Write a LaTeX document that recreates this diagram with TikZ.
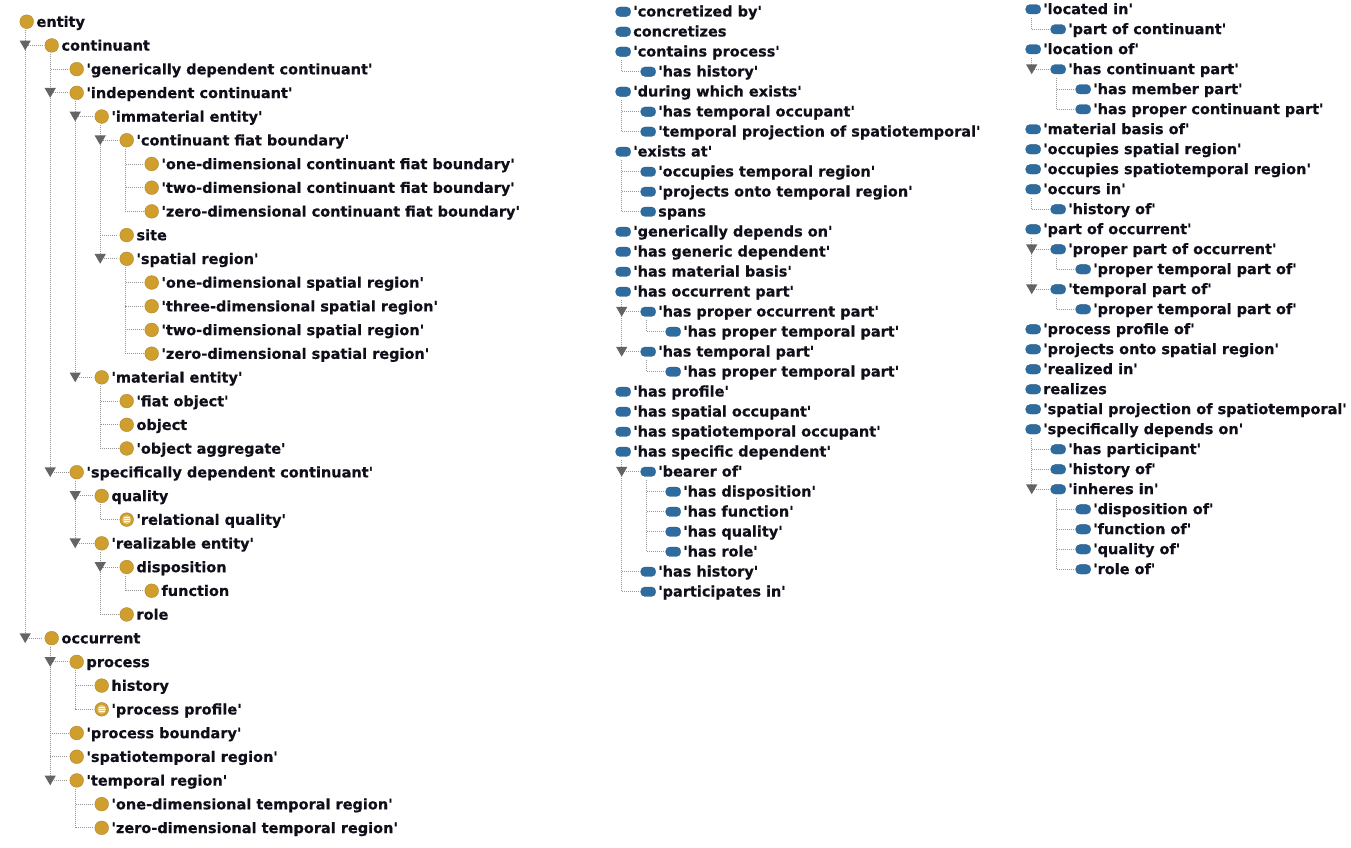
\documentclass[tikz,border=0pt]{standalone}
\usepackage{fontspec}
\setmainfont{DejaVu Sans}[BoldFeatures={FakeBold=0.5}]
\usetikzlibrary{shapes.geometric,calc}
\definecolor{gold}{RGB}{207,158,45}
\definecolor{propblue}{RGB}{46,108,160}
\definecolor{trigray}{RGB}{100,100,100}
\definecolor{linegray}{RGB}{150,150,150}
\definecolor{txt}{RGB}{15,15,25}
\newcommand\q[1]{\textquotesingle#1\textquotesingle}
\tikzset{
  cls/.style={circle, fill=gold, draw=gold!80!black, line width=0.3pt, minimum size=13.8pt, inner sep=0pt},
  defcls/.style={cls, path picture={
     \fill[gold!55!white] (path picture bounding box.center) circle (4.5pt);
     \foreach \yy in {-2.1,0,2.1}{\draw[white, line width=0.9pt] ($(path picture bounding box.center)+(-2.9,\yy)$) -- ++(5.8,0);}}},
  prop/.style={rectangle, rounded corners=4.2pt, fill=propblue, draw=propblue!80!black, line width=0.3pt, minimum width=15pt, minimum height=9.4pt, inner sep=0pt},
  lbl/.style={anchor=base west, inner sep=0pt, text=txt, font=\bfseries\fontsize{14.5}{16}\selectfont},
  tline/.style={draw=linegray, line width=0.9pt, dash pattern=on 1pt off 1pt},
  tri/.style={regular polygon, regular polygon sides=3, shape border rotate=180, fill=trigray, inner sep=0pt, minimum size=13pt},
}
% column 1: classes
\newcommand\A[5][cls]{\node[#1] (#2) at ({26.7+25*#3},{21.7+23.71*#4}) {};
  \node[lbl] (#2t) at ([xshift=9.6pt,yshift=-5.2pt]#2.center) {#5};}
% column 2 / 3: properties
\newcommand\B[4]{\node[prop] (#1) at ({623.2+25*#2},{11.7+20*#3}) {};
  \node[lbl] (#1t) at ([xshift=9.8pt,yshift=-4.8pt]#1.center) {#4};}
\newcommand\C[4]{\node[prop] (#1) at ({1033.2+25*#2},{9.3+20*#3}) {};
  \node[lbl] (#1t) at ([xshift=9.8pt,yshift=-4.8pt]#1.center) {#4};}
\newcommand\lk[2]{\draw[tline] ([xshift=-1.5pt,yshift=-8.5pt]#1.center) |- ([xshift=-1.5pt]#2.west);}
\newcommand\tg[2]{\node[tri] (h-#2) at ($(#1.center |- #2.center)+(-1.5,-1.6)$) {};}
\begin{document}
\begin{tikzpicture}[x=1pt,y=-1pt]
\useasboundingbox (0,0) rectangle (1351,848);
\fill[white] (0,0) rectangle (1351,848);
% ---------------- column 1
\A{e}{0}{0}{entity}
\A{c}{1}{1}{continuant}
\A{gdc}{2}{2}{\q{generically dependent continuant}}
\A{ic}{2}{3}{\q{independent continuant}}
\A{ie}{3}{4}{\q{immaterial entity}}
\A{cfb}{4}{5}{\q{continuant fiat boundary}}
\A{cfbA}{5}{6}{\q{one-dimensional continuant fiat boundary}}
\A{cfbB}{5}{7}{\q{two-dimensional continuant fiat boundary}}
\A{cfbC}{5}{8}{\q{zero-dimensional continuant fiat boundary}}
\A{site}{4}{9}{site}
\A{sr}{4}{10}{\q{spatial region}}
\A{srA}{5}{11}{\q{one-dimensional spatial region}}
\A{srB}{5}{12}{\q{three-dimensional spatial region}}
\A{srC}{5}{13}{\q{two-dimensional spatial region}}
\A{srD}{5}{14}{\q{zero-dimensional spatial region}}
\A{me}{3}{15}{\q{material entity}}
\A{fo}{4}{16}{\q{fiat object}}
\A{obj}{4}{17}{object}
\A{oa}{4}{18}{\q{object aggregate}}
\A{sdc}{2}{19}{\q{specifically dependent continuant}}
\A{qual}{3}{20}{quality}
\A[defcls]{rq}{4}{21}{\q{relational quality}}
\A{re}{3}{22}{\q{realizable entity}}
\A{disp}{4}{23}{disposition}
\A{func}{5}{24}{function}
\A{role}{4}{25}{role}
\A{occ}{1}{26}{occurrent}
\A{proc}{2}{27}{process}
\A{hist}{3}{28}{history}
\A[defcls]{pp}{3}{29}{\q{process profile}}
\A{pb}{2}{30}{\q{process boundary}}
\A{str}{2}{31}{\q{spatiotemporal region}}
\A{tr}{2}{32}{\q{temporal region}}
\A{trA}{3}{33}{\q{one-dimensional temporal region}}
\A{trB}{3}{34}{\q{zero-dimensional temporal region}}
% ---------------- column 2
\B{p0}{0}{0}{\q{concretized by}}
\B{p1}{0}{1}{concretizes}
\B{p2}{0}{2}{\q{contains process}}
\B{p3}{1}{3}{\q{has history}}
\B{p4}{0}{4}{\q{during which exists}}
\B{p5}{1}{5}{\q{has temporal occupant}}
\B{p6}{1}{6}{\q{temporal projection of spatiotemporal}}
\B{p7}{0}{7}{\q{exists at}}
\B{p8}{1}{8}{\q{occupies temporal region}}
\B{p9}{1}{9}{\q{projects onto temporal region}}
\B{p10}{1}{10}{spans}
\B{p11}{0}{11}{\q{generically depends on}}
\B{p12}{0}{12}{\q{has generic dependent}}
\B{p13}{0}{13}{\q{has material basis}}
\B{p14}{0}{14}{\q{has occurrent part}}
\B{p15}{1}{15}{\q{has proper occurrent part}}
\B{p16}{2}{16}{\q{has proper temporal part}}
\B{p17}{1}{17}{\q{has temporal part}}
\B{p18}{2}{18}{\q{has proper temporal part}}
\B{p19}{0}{19}{\q{has profile}}
\B{p20}{0}{20}{\q{has spatial occupant}}
\B{p21}{0}{21}{\q{has spatiotemporal occupant}}
\B{p22}{0}{22}{\q{has specific dependent}}
\B{p23}{1}{23}{\q{bearer of}}
\B{p24}{2}{24}{\q{has disposition}}
\B{p25}{2}{25}{\q{has function}}
\B{p26}{2}{26}{\q{has quality}}
\B{p27}{2}{27}{\q{has role}}
\B{p28}{1}{28}{\q{has history}}
\B{p29}{1}{29}{\q{participates in}}
% ---------------- column 3
\C{q0}{0}{0}{\q{located in}}
\C{q1}{1}{1}{\q{part of continuant}}
\C{q2}{0}{2}{\q{location of}}
\C{q3}{1}{3}{\q{has continuant part}}
\C{q4}{2}{4}{\q{has member part}}
\C{q5}{2}{5}{\q{has proper continuant part}}
\C{q6}{0}{6}{\q{material basis of}}
\C{q7}{0}{7}{\q{occupies spatial region}}
\C{q8}{0}{8}{\q{occupies spatiotemporal region}}
\C{q9}{0}{9}{\q{occurs in}}
\C{q10}{1}{10}{\q{history of}}
\C{q11}{0}{11}{\q{part of occurrent}}
\C{q12}{1}{12}{\q{proper part of occurrent}}
\C{q13}{2}{13}{\q{proper temporal part of}}
\C{q14}{1}{14}{\q{temporal part of}}
\C{q15}{2}{15}{\q{proper temporal part of}}
\C{q16}{0}{16}{\q{process profile of}}
\C{q17}{0}{17}{\q{projects onto spatial region}}
\C{q18}{0}{18}{\q{realized in}}
\C{q19}{0}{19}{realizes}
\C{q20}{0}{20}{\q{spatial projection of spatiotemporal}}
\C{q21}{0}{21}{\q{specifically depends on}}
\C{q22}{1}{22}{\q{has participant}}
\C{q23}{1}{23}{\q{history of}}
\C{q24}{1}{24}{\q{inheres in}}
\C{q25}{2}{25}{\q{disposition of}}
\C{q26}{2}{26}{\q{function of}}
\C{q27}{2}{27}{\q{quality of}}
\C{q28}{2}{28}{\q{role of}}
% ---------------- connectors
\foreach \a/\b in {e/c,e/occ,c/gdc,c/ic,c/sdc,ic/ie,ic/me,ie/cfb,ie/site,ie/sr,
  cfb/cfbA,cfb/cfbB,cfb/cfbC,sr/srA,sr/srB,sr/srC,sr/srD,me/fo,me/obj,me/oa,
  sdc/qual,sdc/re,qual/rq,re/disp,re/role,disp/func,occ/proc,occ/pb,occ/str,occ/tr,
  proc/hist,proc/pp,tr/trA,tr/trB,
  p2/p3,p4/p5,p4/p6,p7/p8,p7/p9,p7/p10,p14/p15,p14/p17,p15/p16,p17/p18,
  p22/p23,p22/p28,p22/p29,p23/p24,p23/p25,p23/p26,p23/p27,
  q0/q1,q2/q3,q3/q4,q3/q5,q9/q10,q11/q12,q11/q14,q12/q13,q14/q15,
  q21/q22,q21/q23,q21/q24,q24/q25,q24/q26,q24/q27,q24/q28}{\lk{\a}{\b}}
% ---------------- expand handles
\foreach \a/\b in {e/c,c/ic,ic/ie,ie/cfb,ie/sr,ic/me,c/sdc,sdc/qual,sdc/re,re/disp,
  e/occ,occ/proc,occ/tr,p14/p15,p14/p17,p22/p23,q2/q3,q11/q12,q11/q14,q21/q24}{\tg{\a}{\b}}
\end{tikzpicture}
\end{document}
